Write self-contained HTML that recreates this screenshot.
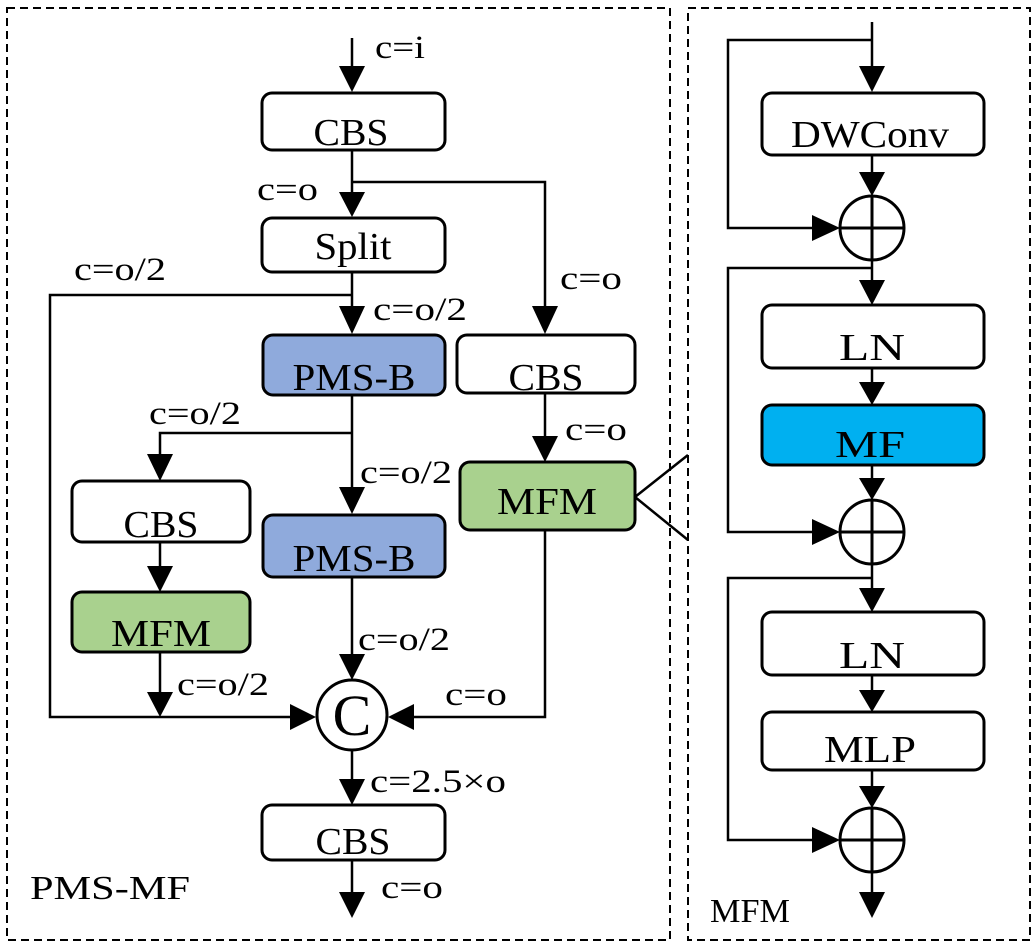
<!DOCTYPE html>
<html><head><meta charset="utf-8"><style>html,body{margin:0;padding:0;background:#fff}svg{display:block}</style></head>
<body>
<svg width="1034" height="946" viewBox="0 0 1034 946" xmlns="http://www.w3.org/2000/svg" font-family="Liberation Serif, serif">
<style>
.l{stroke:#000;stroke-width:2.5;fill:none}
.b{stroke:#000;stroke-width:3;}
.t{font-size:38px;text-anchor:middle}
.s{font-size:33px}
</style>
<rect x="7" y="8" width="663" height="932" fill="none" stroke="#000" stroke-width="2" stroke-dasharray="8,5"/>
<rect x="688" y="8" width="342" height="932" fill="none" stroke="#000" stroke-width="2" stroke-dasharray="8,5"/>

<g fill="#000">
<line class="l" x1="352" y1="38" x2="352" y2="70"/><path d="M339,66 L365,66 L352,92 z"/>
<line class="l" x1="352" y1="150" x2="352" y2="195"/><path d="M339,192 L365,192 L352,217 z"/>
<polyline class="l" points="352,182 545,182 545,310"/><path d="M532,306 L558,306 L545,334 z"/>
<line class="l" x1="352" y1="272" x2="352" y2="310"/><path d="M339,306 L365,306 L352,334 z"/>
<polyline class="l" points="352,295 50,295 50,717 292,717"/><path d="M290,704 L290,730 L316,717 z"/>
<line class="l" x1="545" y1="393" x2="545" y2="440"/><path d="M532,436 L558,436 L545,462 z"/>
<line class="l" x1="352" y1="395" x2="352" y2="490"/><path d="M339,487 L365,487 L352,514 z"/>
<polyline class="l" points="352,433 160,433 160,456"/><path d="M147,454 L173,454 L160,481 z"/>
<line class="l" x1="160" y1="542" x2="160" y2="570"/><path d="M147,566 L173,566 L160,592 z"/>
<line class="l" x1="160" y1="652" x2="160" y2="695"/><path d="M147,692 L173,692 L160,717 z"/>
<line class="l" x1="352" y1="577" x2="352" y2="656"/><path d="M339,654 L365,654 L352,680 z"/>
<polyline class="l" points="545,530 545,717 412,717"/><path d="M414,704 L414,730 L388,717 z"/>
<line class="l" x1="352" y1="750" x2="352" y2="782"/><path d="M339,779 L365,779 L352,805 z"/>
<line class="l" x1="352" y1="860" x2="352" y2="895"/><path d="M339,892 L365,892 L352,918 z"/>
<polyline class="l" points="688,455 635,497 688,540"/>

<line class="l" x1="872" y1="22" x2="872" y2="70"/><path d="M859,66 L885,66 L872,92 z"/>
<polyline class="l" points="872,40 728,40 728,228 812,228"/><path d="M812,215 L812,241 L840,228 z"/>
<line class="l" x1="872" y1="155" x2="872" y2="180"/><path d="M859,172 L885,172 L872,196 z"/>
<line class="l" x1="872" y1="260" x2="872" y2="285"/><path d="M859,280 L885,280 L872,305 z"/>
<polyline class="l" points="872,268 728,268 728,532 812,532"/><path d="M812,519 L812,545 L840,532 z"/>
<line class="l" x1="872" y1="368" x2="872" y2="385"/><path d="M859,382 L885,382 L872,405 z"/>
<line class="l" x1="872" y1="465" x2="872" y2="485"/><path d="M859,478 L885,478 L872,500 z"/>
<line class="l" x1="872" y1="560" x2="872" y2="590"/><path d="M859,588 L885,588 L872,612 z"/>
<polyline class="l" points="872,578 728,578 728,840 812,840"/><path d="M812,827 L812,853 L840,840 z"/>
<line class="l" x1="872" y1="675" x2="872" y2="692"/><path d="M859,690 L885,690 L872,712 z"/>
<line class="l" x1="872" y1="770" x2="872" y2="790"/><path d="M859,786 L885,786 L872,808 z"/>
<line class="l" x1="872" y1="868" x2="872" y2="895"/><path d="M859,892 L885,892 L872,918 z"/>
</g>

<rect class="b" x="262" y="93" width="183" height="57" rx="10" fill="#fff"/>
<rect class="b" x="262" y="218" width="183" height="54" rx="10" fill="#fff"/>
<rect class="b" x="263" y="335" width="182" height="60" rx="10" fill="#8faadc"/>
<rect class="b" x="457" y="335" width="178" height="58" rx="10" fill="#fff"/>
<rect class="b" x="460" y="462" width="175" height="68" rx="10" fill="#a9d18e"/>
<rect class="b" x="72" y="481" width="178" height="61" rx="10" fill="#fff"/>
<rect class="b" x="263" y="515" width="182" height="62" rx="10" fill="#8faadc"/>
<rect class="b" x="72" y="592" width="178" height="60" rx="10" fill="#a9d18e"/>
<rect class="b" x="262" y="805" width="183" height="55" rx="10" fill="#fff"/>
<circle cx="352" cy="715" r="35" fill="#fff" stroke="#000" stroke-width="3"/>

<text class="t" x="351" y="145" textLength="75" lengthAdjust="spacingAndGlyphs">CBS</text>
<text class="t" x="353" y="259" textLength="77" lengthAdjust="spacingAndGlyphs">Split</text>
<text class="t" x="354" y="390" textLength="123" lengthAdjust="spacingAndGlyphs">PMS-B</text>
<text class="t" x="546" y="390" textLength="75" lengthAdjust="spacingAndGlyphs">CBS</text>
<text class="t" x="547" y="514" textLength="100" lengthAdjust="spacingAndGlyphs">MFM</text>
<text class="t" x="161" y="537" textLength="75" lengthAdjust="spacingAndGlyphs">CBS</text>
<text class="t" x="354" y="571" textLength="123" lengthAdjust="spacingAndGlyphs">PMS-B</text>
<text class="t" x="161" y="646" textLength="100" lengthAdjust="spacingAndGlyphs">MFM</text>
<text class="t" x="353" y="854" textLength="75" lengthAdjust="spacingAndGlyphs">CBS</text>
<text x="352" y="735" font-size="58" text-anchor="middle">C</text>

<text class="s" x="375" y="58" textLength="50" lengthAdjust="spacingAndGlyphs">c=i</text>
<text class="s" x="257" y="200" textLength="61" lengthAdjust="spacingAndGlyphs">c=o</text>
<text class="s" x="74" y="280" textLength="92" lengthAdjust="spacingAndGlyphs">c=o/2</text>
<text class="s" x="560" y="289" textLength="62" lengthAdjust="spacingAndGlyphs">c=o</text>
<text class="s" x="373" y="320" textLength="94" lengthAdjust="spacingAndGlyphs">c=o/2</text>
<text class="s" x="149" y="424" textLength="92" lengthAdjust="spacingAndGlyphs">c=o/2</text>
<text class="s" x="565" y="440" textLength="62" lengthAdjust="spacingAndGlyphs">c=o</text>
<text class="s" x="360" y="483" textLength="92" lengthAdjust="spacingAndGlyphs">c=o/2</text>
<text class="s" x="358" y="650" textLength="92" lengthAdjust="spacingAndGlyphs">c=o/2</text>
<text class="s" x="177" y="695" textLength="92" lengthAdjust="spacingAndGlyphs">c=o/2</text>
<text class="s" x="445" y="705" textLength="62" lengthAdjust="spacingAndGlyphs">c=o</text>
<text class="s" x="370" y="792" textLength="136" lengthAdjust="spacingAndGlyphs">c=2.5×o</text>
<text class="s" x="381" y="898" textLength="62" lengthAdjust="spacingAndGlyphs">c=o</text>
<text x="30" y="899" font-size="34" textLength="160" lengthAdjust="spacingAndGlyphs">PMS-MF</text>
<text x="710" y="922" font-size="34" textLength="80" lengthAdjust="spacingAndGlyphs">MFM</text>

<rect class="b" x="762" y="93" width="222" height="62" rx="10" fill="#fff"/>
<rect class="b" x="762" y="305" width="222" height="63" rx="10" fill="#fff"/>
<rect class="b" x="762" y="405" width="222" height="60" rx="10" fill="#00b0f0"/>
<rect class="b" x="762" y="612" width="222" height="63" rx="10" fill="#fff"/>
<rect class="b" x="762" y="712" width="222" height="58" rx="10" fill="#fff"/>
<text class="t" x="870" y="147" textLength="158" lengthAdjust="spacingAndGlyphs">DWConv</text>
<text class="t" x="872" y="360" textLength="66" lengthAdjust="spacingAndGlyphs">LN</text>
<text class="t" x="870" y="457" textLength="70" lengthAdjust="spacingAndGlyphs">MF</text>
<text class="t" x="872" y="668" textLength="66" lengthAdjust="spacingAndGlyphs">LN</text>
<text class="t" x="870" y="762" textLength="92" lengthAdjust="spacingAndGlyphs">MLP</text>

<g fill="#fff" stroke="#000" stroke-width="3">
<circle cx="872" cy="228" r="32"/><line x1="840" y1="228" x2="904" y2="228"/><line x1="872" y1="196" x2="872" y2="260"/>
<circle cx="872" cy="532" r="32"/><line x1="840" y1="532" x2="904" y2="532"/><line x1="872" y1="500" x2="872" y2="564"/>
<circle cx="872" cy="840" r="32"/><line x1="840" y1="840" x2="904" y2="840"/><line x1="872" y1="808" x2="872" y2="872"/>
</g>
</svg>
</body></html>
